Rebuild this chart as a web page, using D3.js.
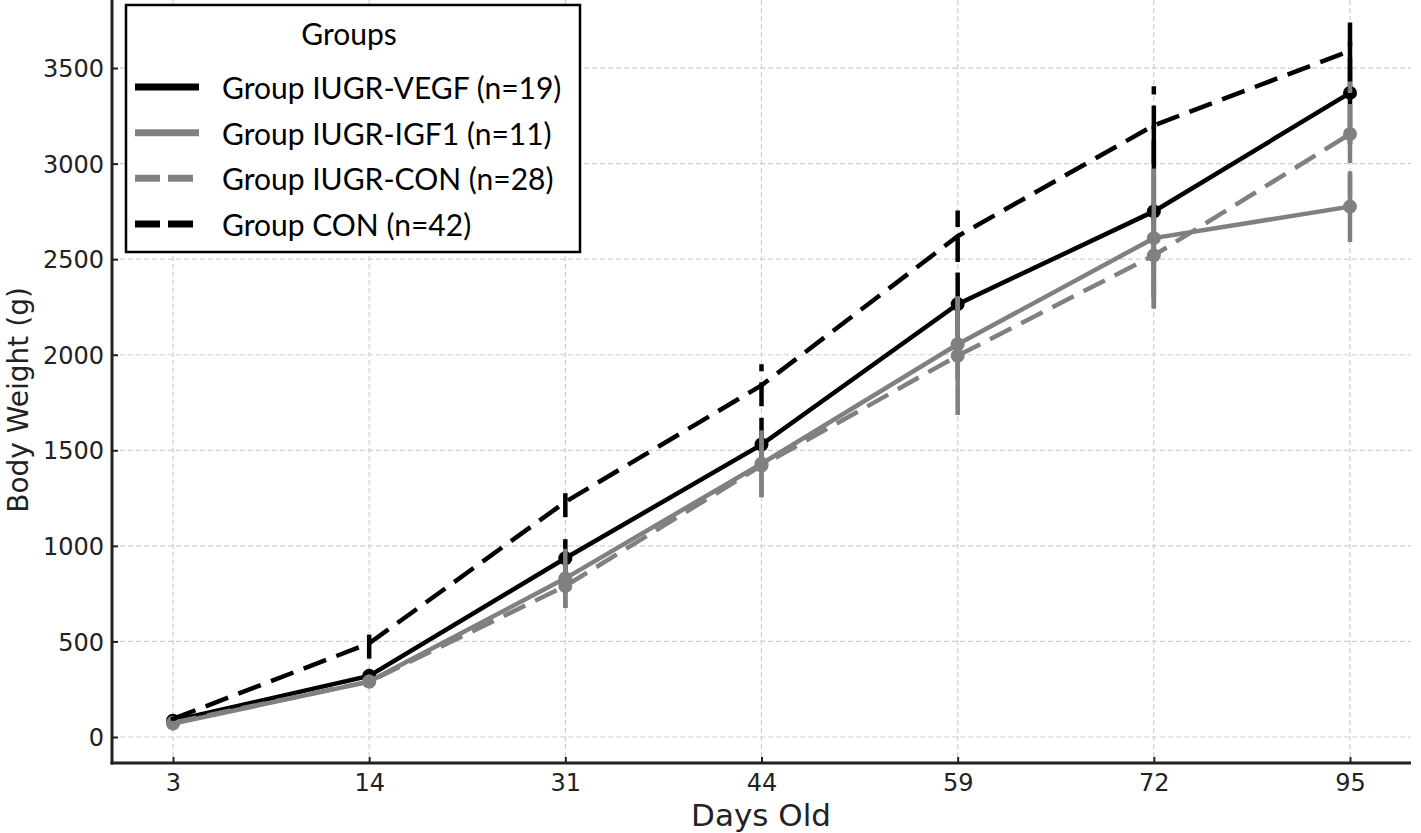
<!DOCTYPE html>
<html>
<head>
<meta charset="utf-8">
<script src="https://cdn.jsdelivr.net/npm/d3@7.9.0/dist/d3.min.js"></script>
<style>
  body { margin: 0; background: #fff; }
  svg { display: block; }
  .axis-label { font-family: "DejaVu Sans", sans-serif; fill: #222; }
  .legend text { font-family: Lato, "Open Sans", sans-serif; font-size: 30px; fill: #000; }
</style>
</head>
<body>
<svg id="chart" width="1421" height="833"></svg>
<script>
// chart data
const days = ['3', '14', '31', '44', '59', '72', '95'];
const groupNames = ['Group IUGR-VEGF (n=19)', 'Group IUGR-IGF1 (n=11)', 'Group IUGR-CON (n=28)', 'Group CON (n=42)'];
const vegfMean = [85, 320, 935, 1530, 2265, 2750, 3370];
const vegfErr  = [10, 30, 100, 140, 165, 450, 270];
const igf1Mean = [70, 290, 830, 1430, 2055, 2610, 2775];
const igf1Err  = [10, 25, 155, 175, 250, 365, 185];
const iugrConMean = [75, 290, 790, 1420, 1995, 2520, 3155];
const iugrConErr  = [10, 25, 115, 165, 310, 280, 335];
const conMean = [95, 490, 1230, 1840, 2620, 3200, 3590];
const conErr  = [10, 80, 80, 110, 135, 205, 160];
const yTicks = [0, 500, 1000, 1500, 2000, 2500, 3000, 3500];

const series = [
  { name: groupNames[0], mean: vegfMean, err: vegfErr, color: '#000', dash: null, marker: true },
  { name: groupNames[1], mean: igf1Mean, err: igf1Err, color: '#808080', dash: null, marker: true },
  { name: groupNames[2], mean: iugrConMean, err: iugrConErr, color: '#808080', dash: '24 11', marker: true },
  { name: groupNames[3], mean: conMean, err: conErr, color: '#000', dash: '24 11', marker: false }
];

const svg = d3.select('#chart');
const plotLeft = 112, plotRight = 1411, plotTop = 0, plotBottom = 763;

// categorical x with padding like matplotlib margins
const x = d3.scalePoint().domain(days).range([173, 1350]);
const y = d3.scaleLinear().domain([-136, 3856]).range([plotBottom, plotTop]);

// grid
const grid = svg.append('g');
grid.selectAll('line.h').data(yTicks).enter().append('line')
  .attr('x1', plotLeft).attr('x2', plotRight)
  .attr('y1', d => y(d)).attr('y2', d => y(d))
  .attr('stroke', '#cfcfcf').attr('stroke-width', 1.2).attr('stroke-dasharray', '5 3');
grid.selectAll('line.v').data(days).enter().append('line')
  .attr('x1', d => x(d)).attr('x2', d => x(d))
  .attr('y1', plotTop).attr('y2', plotBottom)
  .attr('stroke', '#cfcfcf').attr('stroke-width', 1.2).attr('stroke-dasharray', '5 3');

// axes, ticks pointing inward
const xAxis = svg.append('g').attr('transform', `translate(0,${plotBottom})`)
  .call(d3.axisBottom(x).tickSize(-6));
const yAxis = svg.append('g').attr('transform', `translate(${plotLeft},0)`)
  .call(d3.axisLeft(y).tickValues(yTicks).tickFormat(d3.format('d')).tickSize(-6));
[xAxis, yAxis].forEach(a => {
  a.attr('font-family', 'DejaVu Sans').attr('font-size', 24);
  a.select('.domain').remove();
  a.selectAll('.tick line').attr('stroke', '#222').attr('stroke-width', 2);
  a.selectAll('.tick text').attr('fill', '#222');
});
xAxis.selectAll('.tick text').attr('y', 28).attr('dy', 0);
yAxis.selectAll('.tick text').attr('x', -8).attr('dy', '0.36em');

// spines
svg.append('line').attr('x1', plotLeft).attr('x2', plotLeft).attr('y1', plotTop).attr('y2', plotBottom + 1.5)
  .attr('stroke', '#222').attr('stroke-width', 3);
svg.append('line').attr('x1', plotLeft - 1.5).attr('x2', plotRight).attr('y1', plotBottom).attr('y2', plotBottom)
  .attr('stroke', '#222').attr('stroke-width', 3);

// lines, error bars, markers
const line = d3.line().x((d, i) => x(days[i])).y(d => y(d));
series.forEach(s => {
  const g = svg.append('g');
  g.append('path').datum(s.mean).attr('d', line)
    .attr('fill', 'none').attr('stroke', s.color).attr('stroke-width', 4.5)
    .attr('stroke-dasharray', s.dash);
  g.selectAll('line.err').data(s.mean).enter().append('line')
    .attr('x1', (d, i) => x(days[i])).attr('x2', (d, i) => x(days[i]))
    .attr('y1', (d, i) => y(d - s.err[i])).attr('y2', (d, i) => y(d + s.err[i]))
    .attr('stroke', s.color).attr('stroke-width', 4.5)
    .attr('stroke-dasharray', s.dash);
  if (s.marker) {
    g.selectAll('circle').data(s.mean).enter().append('circle')
      .attr('cx', (d, i) => x(days[i])).attr('cy', d => y(d))
      .attr('r', 7).attr('fill', s.color);
  }
});

// axis labels
svg.append('text').attr('class', 'axis-label').attr('font-size', 31)
  .attr('x', 761).attr('y', 826).attr('text-anchor', 'middle').text('Days Old');
svg.append('text').attr('class', 'axis-label').attr('font-size', 28)
  .attr('transform', 'translate(28,400) rotate(-90)').attr('text-anchor', 'middle')
  .text('Body Weight (g)');

// legend
const legend = svg.append('g').attr('class', 'legend');
legend.append('rect').attr('x', 126).attr('y', 5).attr('width', 454).attr('height', 247)
  .attr('fill', '#fff').attr('stroke', '#000').attr('stroke-width', 2.5);
legend.append('text').attr('x', 349).attr('y', 33).attr('text-anchor', 'middle')
  .attr('dominant-baseline', 'central').text('Groups');
const rowY = d3.scalePoint().domain(groupNames).range([87, 224]);
series.forEach(s => {
  legend.append('line').attr('x1', 135).attr('x2', 199)
    .attr('y1', rowY(s.name)).attr('y2', rowY(s.name))
    .attr('stroke', s.color).attr('stroke-width', 7)
    .attr('stroke-dasharray', s.dash ? '25 8' : null);
  legend.append('text').attr('x', 222).attr('y', rowY(s.name))
    .attr('dominant-baseline', 'central').text(s.name);
});
</script>
</body>
</html>
